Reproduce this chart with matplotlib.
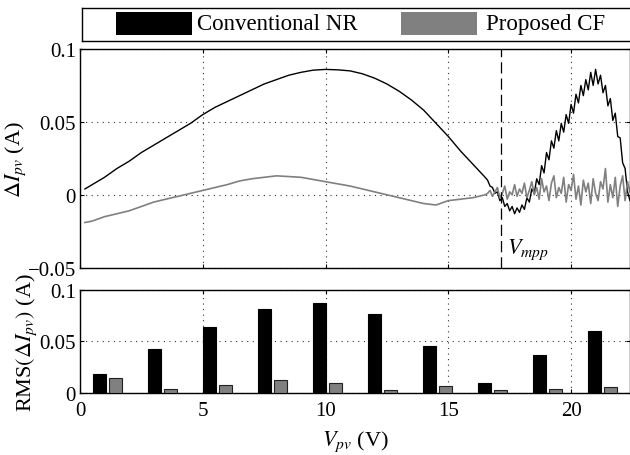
import matplotlib
matplotlib.use("Agg")
import matplotlib.pyplot as plt
from matplotlib.patches import Rectangle
import numpy as np

plt.rcParams['font.family'] = ['Liberation Serif', 'DejaVu Serif']
plt.rcParams['mathtext.fontset'] = 'stix'

# ---- data: top panel curves (V_pv in V, Delta I_pv in A) ----
nr_v = [0.2, 0.5, 1.0, 1.5, 2.0, 2.5, 3.0, 3.5, 4.0, 4.5, 5.0, 5.5, 6.0, 6.5, 7.0, 7.5,
        8.0, 8.5, 9.0, 9.5, 10.0, 10.5, 11.0, 11.5, 12.0, 12.5, 13.0, 13.5, 14.0, 14.5,
        15.0, 15.5, 16.0, 16.5,
        16.6, 16.7, 16.8, 16.9, 17.0, 17.1, 17.2, 17.3, 17.4, 17.5, 17.6, 17.7, 17.8, 17.9,
        18.0, 18.1, 18.2, 18.3, 18.4, 18.5, 18.6, 18.7, 18.8, 18.9, 19.0, 19.1, 19.2, 19.3,
        19.4, 19.5, 19.6, 19.7, 19.8, 19.9, 20.0, 20.1, 20.2, 20.3, 20.4, 20.5, 20.6, 20.7,
        20.8, 20.9, 21.0, 21.1, 21.2, 21.3, 21.4, 21.5, 21.6, 21.7, 21.8, 21.9, 22.0, 22.1,
        22.2, 22.3, 22.4]
nr_i = [0.004, 0.007, 0.012, 0.018, 0.023, 0.029, 0.034, 0.039, 0.044, 0.049, 0.055, 0.060,
        0.064, 0.068, 0.072, 0.076, 0.079, 0.082, 0.084, 0.0855, 0.086, 0.0857, 0.085, 0.083,
        0.080, 0.076, 0.071, 0.065, 0.058, 0.049, 0.040, 0.030, 0.021, 0.012,
        0.010, 0.006, 0.005, 0.001, 0.002, -0.004, -0.002, -0.008, -0.006, -0.011, -0.008,
        -0.013, -0.009, -0.012, -0.007, -0.010, -0.002, -0.005, 0.004, 0.001, 0.011, 0.007,
        0.020, 0.015, 0.029, 0.024, 0.037, 0.032, 0.044, 0.037, 0.049, 0.043, 0.055, 0.049,
        0.062, 0.056, 0.069, 0.063, 0.075, 0.068, 0.079, 0.072, 0.084, 0.075, 0.086, 0.076,
        0.082, 0.070, 0.075, 0.061, 0.066, 0.051, 0.056, 0.040, 0.039, 0.022, 0.018, 0.002,
        -0.004]

cf_v = nr_v
cf_i = [-0.019, -0.018, -0.015, -0.013, -0.011, -0.008, -0.005, -0.003, -0.001, 0.001,
        0.003, 0.005, 0.007, 0.0095, 0.011, 0.012, 0.013, 0.0125, 0.012, 0.0105, 0.009,
        0.0075, 0.006, 0.004, 0.002, 0.0, -0.002, -0.004, -0.006, -0.007, -0.004, -0.003,
        -0.002, 0.0,
        0.001, 0.003, -0.001, 0.002, 0.005, -0.002, 0.001, 0.006, -0.003, 0.002, 0.000,
        0.007, -0.001, 0.004, 0.001, 0.008, -0.002, 0.003, 0.009, 0.000, 0.005, -0.003,
        0.011, 0.002, 0.006, -0.004, 0.008, 0.013, -0.002, 0.005, 0.001, 0.012, -0.005,
        0.007, 0.003, 0.014, -0.003, 0.006, -0.007, 0.010, 0.002, 0.008, -0.006, 0.011,
        0.001, -0.004, 0.009, 0.004, 0.018, -0.005, 0.007, -0.002, 0.012, -0.008, 0.006,
        0.013, -0.004, 0.009, 0.002]

v_mpp = 17.16

# ---- data: bottom panel RMS values per voltage bin ----
bin_centers = [1.12, 3.36, 5.60, 7.84, 10.08, 12.32, 14.56, 16.80, 19.04, 21.28]
rms_nr = [0.0181, 0.0423, 0.0642, 0.0813, 0.0868, 0.0762, 0.0452, 0.0100, 0.0368, 0.0603]
rms_cf = [0.0148, 0.0039, 0.0077, 0.0126, 0.0094, 0.0029, 0.0065, 0.0026, 0.0036, 0.0055]

legend_labels = ['Conventional NR', 'Proposed CF']
gray = '#808080'

fig = plt.figure(figsize=(6.3, 4.56), dpi=100)
W, H = 630.0, 456.0
ax1 = fig.add_axes([80 / W, 1 - 268.7 / H, 550 / W, 218.7 / H])
ax2 = fig.add_axes([80 / W, 1 - 394 / H, 550 / W, 103.3 / H])

tick_fs = 15
for ax in (ax1, ax2):
    ax.set_xlim(0, 22.4)
    ax.set_xticks([0, 5, 10, 15, 20])
    ax.grid(True, linestyle=(0, (1, 4)), color='#333333', linewidth=0.8)
    ax.tick_params(direction='in', length=3, labelsize=tick_fs, top=True, right=True)
    ax.tick_params(axis='x', pad=6)
    ax.tick_params(axis='y', pad=3)
    for s in ax.spines.values():
        s.set_linewidth(1.0)

ax1.plot(nr_v, nr_i, color='black', linewidth=1.0)
ax1.plot(cf_v, cf_i, color=gray, linewidth=1.2)
ax1.axvline(v_mpp, color='black', linestyle=(0, (9, 4)), linewidth=0.9)
ax1.text(v_mpp + 0.25, -0.037, r'$V_{mpp}$', fontsize=16, va='center', ha='left')
ax1.set_ylim(-0.05, 0.1)
ax1.set_yticks([-0.05, 0, 0.05, 0.1])
ax1.set_yticklabels(['\u22120.05', '0', '0.05', '0.1'])
ax1.tick_params(labelbottom=False)
ax1.set_ylabel(r'$\Delta I_{pv}$ (A)', fontsize=16, labelpad=0)

bw = 0.54
off = 0.32
ax2.bar(np.array(bin_centers) - off, rms_nr, width=bw, color='black', edgecolor='black',
        linewidth=0.8, zorder=3)
ax2.bar(np.array(bin_centers) + off, rms_cf, width=bw, color=gray, edgecolor='#222222',
        linewidth=0.8, zorder=3)
ax2.set_ylim(0, 0.1)
ax2.set_yticks([0, 0.05, 0.1])
ax2.set_yticklabels(['0', '0.05', '0.1'])
ax2.set_ylabel(r'RMS$(\Delta I_{pv})$ (A)', fontsize=16, labelpad=0)
ax2.set_xlabel(r'$V_{pv}$ (V)', fontsize=16, labelpad=6)

# ---- legend box drawn as its own axes ----
lx0, ly0, lw, lh = 81.5, 9.0, 550.0, 33.0
axl = fig.add_axes([lx0 / W, 1 - (ly0 + lh) / H, lw / W, lh / H])
axl.set_xlim(0, lw)
axl.set_ylim(lh, 0)
axl.set_xticks([])
axl.set_yticks([])
for s in axl.spines.values():
    s.set_linewidth(1.0)
items = [(116.0, 'black', 197.0), (401.0, gray, 486.0)]
for (px, col, tx), lab in zip(items, legend_labels):
    axl.add_patch(Rectangle((px - lx0, 4.0), 76.0, 23.0, facecolor=col, edgecolor='none'))
    axl.text(tx - lx0, 16.0, lab, fontsize=16.5, va='center', ha='left')

fig.savefig('out.png', dpi=100)
